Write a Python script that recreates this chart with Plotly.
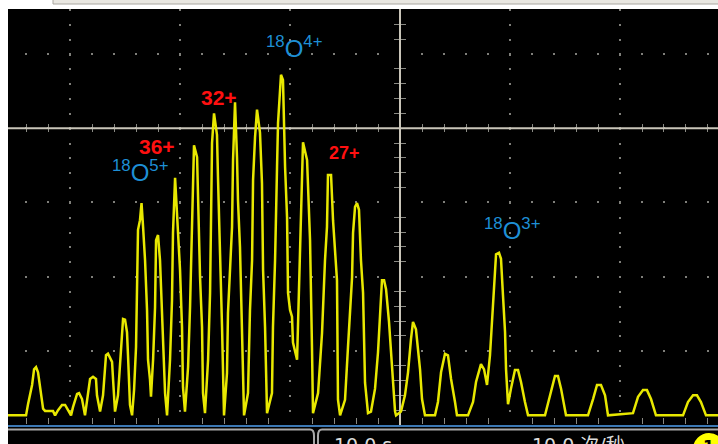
import plotly.graph_objects as go

# Oscilloscope trace: time (s, 10 s/div, 0 = screen centre) and amplitude (div above screen bottom)
time_s = [-35.64, -34.0, -33.82, -33.45, -33.27, -33.09, -32.91, -32.73, -32.55, -32.45, -32.27, -31.55, -31.36, -31.09, -30.73, -30.45, -30.18, -29.91, -29.73, -29.36, -29.18, -28.91, -28.64, -28.36, -28.18, -27.91, -27.64, -27.55, -27.27, -27.0, -26.73, -26.55, -26.18, -26.09, -25.91, -25.64, -25.36, -25.18, -25.0, -24.82, -24.73, -24.55, -24.36,
          -24.18, -24.0, -23.91, -23.82, -23.64, -23.5, -23.36, -23.18, -23.0, -22.91, -22.73, -22.64,
          -22.45, -22.27, -22.18, -22.0, -21.82, -21.64, -21.55, -21.36, -21.18,
          -20.91, -20.73, -20.64, -20.45, -20.27, -20.0, -19.82, -19.73, -19.55,
          -19.27, -19.09, -18.91, -18.82, -18.73, -18.45, -18.36, -18.18, -18.0, -17.91, -17.73,
          -17.45, -17.27, -17.09, -16.91, -16.64, -16.55, -16.36, -16.18, -16.0,
          -15.73, -15.64, -15.27, -15.18, -15.0, -14.82, -14.73, -14.55, -14.36, -14.18,
          -13.82, -13.64, -13.45, -13.36, -13.18, -13.0, -12.73, -12.55, -12.45, -12.27, -12.09,
          -11.64, -11.55, -11.36, -11.18, -11.09, -10.82, -10.64, -10.45, -10.27, -10.18, -10.0, -9.82, -9.73, -9.36,
          -9.27, -9.09, -8.91, -8.82, -8.45, -8.36, -8.18, -8.0, -7.91,
          -7.45, -7.09, -6.82, -6.64, -6.55, -6.27, -6.18, -6.09, -5.73, -5.64, -5.45,
          -5.0, -4.73, -4.36, -4.27, -4.09, -3.91, -3.73, -3.55, -3.36, -3.18, -2.91,
          -2.64, -2.27, -2.0, -1.82, -1.64, -1.45, -1.27, -1.0, -0.82, -0.64, -0.45, -0.36,
          0.09, 0.45, 0.73, 1.0, 1.18, 1.45, 1.82, 2.0, 2.27,
          3.18, 3.45, 3.73, 4.09, 4.36, 4.64, 5.0, 5.18,
          6.18, 6.64, 6.91, 7.36, 7.64, 7.91, 8.18, 8.45, 8.73, 9.0, 9.18, 9.36, 9.55, 9.64, 9.82, 10.09, 10.45, 10.73, 11.0, 11.36, 11.64,
          13.18, 13.64, 14.09, 14.36, 14.64, 15.09,
          17.09, 17.55, 17.91, 18.27, 18.64, 18.91,
          21.18, 21.64, 22.09, 22.45, 22.82, 23.27,
          25.73, 26.18, 26.64, 27.0, 27.36, 27.82, 28.91]

amp_div = [0.13, 0.13, 0.28, 0.54, 0.75, 0.78, 0.71, 0.54, 0.35, 0.22, 0.19, 0.19, 0.13, 0.20, 0.27, 0.27, 0.20, 0.13, 0.24, 0.42, 0.43, 0.35, 0.13, 0.40, 0.62, 0.65, 0.62, 0.40, 0.18, 0.40, 0.94, 0.96, 0.85, 0.62, 0.18, 0.40, 1.02, 1.43, 1.42, 1.25, 0.94, 0.27, 0.13,
           0.47, 1.05, 1.99, 2.63, 2.76, 2.99, 2.67, 2.22, 1.55, 0.88, 0.61, 0.38,
           0.88, 1.59, 2.49, 2.56, 2.22, 1.59, 1.05, 0.43, 0.13,
           0.88, 1.68, 2.59, 3.33, 2.86, 2.09, 1.32, 0.51, 0.18,
           0.78, 1.59, 2.67, 3.26, 3.77, 3.61, 3.03, 1.99, 1.32, 0.43, 0.16,
           0.88, 1.78, 3.80, 4.20, 3.91, 3.34, 2.40, 1.32, 0.13,
           0.70, 1.51, 2.67, 3.57, 4.35, 3.61, 3.03, 2.40, 1.32, 0.13,
           0.43, 1.55, 2.22, 3.30, 3.88, 4.25, 3.94, 3.26, 2.09, 1.32, 0.16,
           0.43, 1.32, 2.22, 3.48, 4.07, 4.72, 4.65, 3.48, 2.80, 1.78, 1.55, 1.46, 1.11, 0.88,
           1.32, 2.45, 3.40, 3.81, 3.57, 3.13, 2.49, 1.01, 0.16,
           0.43, 1.24, 2.22, 2.67, 3.37, 3.37, 3.07, 2.76, 1.95, 0.34, 0.13,
           0.34, 1.05, 1.99, 2.59, 2.94, 2.99, 2.90, 2.22, 1.78, 0.57, 0.16,
           0.18, 0.49, 0.98, 1.52, 1.95, 1.95, 1.83, 1.39, 1.02, 0.54, 0.18, 0.13,
           0.18, 0.40, 0.71, 1.16, 1.39, 1.29, 0.75, 0.35, 0.13,
           0.13, 0.31, 0.71, 0.96, 0.94, 0.62, 0.31, 0.13,
           0.13, 0.31, 0.58, 0.82, 0.75, 0.54, 0.94, 1.62, 2.30, 2.32, 2.24, 1.75, 1.25, 0.75, 0.28, 0.49, 0.74, 0.74, 0.58, 0.31, 0.13,
           0.13, 0.40, 0.66, 0.66, 0.49, 0.13,
           0.13, 0.35, 0.54, 0.54, 0.40, 0.13,
           0.16, 0.38, 0.47, 0.47, 0.35, 0.13,
           0.13, 0.31, 0.40, 0.40, 0.31, 0.13, 0.13]

assert len(time_s) == len(amp_div), (len(time_s), len(amp_div))

# Peak labels
charge_labels = ["36+", "32+", "27+"]
charge_x = [-22.09, -16.45, -5.09]
charge_y = [3.75, 4.42, 3.67]
charge_size = [21, 21, 18]

ion_labels = ["<sup>18</sup>O<sup>5+</sup>", "<sup>18</sup>O<sup>4+</sup>", "<sup>18</sup>O<sup>3+</sup>"]
ion_x = [-23.64, -9.64, 10.18]
ion_y = [3.42, 5.09, 2.64]

timebase_text = "10.0 s"
rate_text = "10.0 次/秒"
channel_text = "1"

X_RANGE = [-35.64, 28.91]
Y_RANGE = [0, 5.606]

GRID = "#7f7f7a"
CROSS = "#c9c5b9"

fig = go.Figure()
fig.add_trace(go.Scatter(x=time_s, y=amp_div, mode="lines",
                         line=dict(color="#e8e800", width=2.5), hoverinfo="skip"))

for t, x, y, s in zip(charge_labels, charge_x, charge_y, charge_size):
    fig.add_annotation(x=x, y=y, text="<b>%s</b>" % t, showarrow=False,
                       xanchor="center", yanchor="middle",
                       font=dict(family="Liberation Sans, Arial", size=s, color="#ff1010"))
for t, x, y in zip(ion_labels, ion_x, ion_y):
    fig.add_annotation(x=x, y=y, text=t, showarrow=False,
                       xanchor="center", yanchor="middle",
                       font=dict(family="Liberation Sans, Arial", size=24, color="#1e8fd5"))

# horizontal centre crosshair
fig.add_shape(type="line", xref="x", yref="y", x0=X_RANGE[0] - 1, x1=X_RANGE[1] + 1, y0=4, y1=4,
              line=dict(color=CROSS, width=2), layer="between")

# screen furniture outside the graticule (paper coordinates)
fig.add_shape(type="rect", xref="paper", yref="paper", x0=0, x1=1.01, y0=0.0, y1=-0.07,
              fillcolor="#000000", line=dict(width=0), layer="below")
fig.add_shape(type="rect", xref="paper", yref="paper", x0=0.0634, x1=1.02, y0=1.012, y1=1.04,
              fillcolor="#e9e7e1", line=dict(color="#a9a6a0", width=1), layer="above")
fig.add_shape(type="path", xref="paper", yref="paper",
              path="M 0,-0.0108 L 0.4254,-0.0108 Q 0.4310,-0.0108 0.4310,-0.0264 L 0.4310,-0.06",
              line=dict(color="#a8a8a8", width=2), layer="above")
fig.add_shape(type="path", xref="paper", yref="paper",
              path="M 1.0,-0.0108 L 0.4423,-0.0108 Q 0.4366,-0.0108 0.4366,-0.0264 L 0.4366,-0.06",
              line=dict(color="#a8a8a8", width=2), layer="above")
fig.add_shape(type="circle", xref="paper", yref="paper", x0=0.9648, x1=1.0099, y0=-0.0192, y1=-0.0962,
              fillcolor="#ffff00", line=dict(width=0), layer="above")

fig.add_annotation(xref="paper", yref="paper", x=0.4563, y=-0.0481, text=timebase_text,
                   showarrow=False, xanchor="left", yanchor="middle",
                   font=dict(family="DejaVu Sans", size=19, color="#dcdcdc"))
fig.add_annotation(xref="paper", yref="paper", x=0.7352, y=-0.0481, text=rate_text,
                   showarrow=False, xanchor="left", yanchor="middle",
                   font=dict(family="DejaVu Sans, Noto Sans CJK SC", size=19, color="#dcdcdc"))
fig.add_annotation(xref="paper", yref="paper", x=0.9873, y=-0.0505, text="<b>%s</b>" % channel_text,
                   showarrow=False, xanchor="center", yanchor="middle",
                   font=dict(family="DejaVu Sans", size=16, color="#000000"))

fig.update_xaxes(range=X_RANGE, tick0=0, dtick=10, showticklabels=False, ticks="",
                 showgrid=True, gridcolor=GRID, gridwidth=2, griddash="2px,12.84px",
                 zeroline=True, zerolinecolor=CROSS, zerolinewidth=2,
                 showline=True, linecolor="#3c78b4", linewidth=2, mirror=False,
                 minor=dict(dtick=2, tick0=0, showgrid=True, gridcolor="#8a8a84", gridwidth=1,
                            griddash="0px,115px,8px,286px,6px,100px"))
fig.update_yaxes(range=Y_RANGE, tick0=0, dtick=1, showticklabels=False, ticks="",
                 showgrid=True, gridcolor=GRID, gridwidth=2, griddash="0px,17px,2px,3px",
                 zeroline=False, showline=False,
                 minor=dict(dtick=0.2, tick0=0, showgrid=True, gridcolor="#8a8a84", gridwidth=1,
                            griddash="0px,386px,12px,1000px"))

fig.update_layout(width=718, height=444, margin=dict(l=8, r=0, t=9, b=19, pad=0),
                  paper_bgcolor="#ffffff", plot_bgcolor="#000000", showlegend=False)

fig.write_html("out.html", config={"displayModeBar": False})
